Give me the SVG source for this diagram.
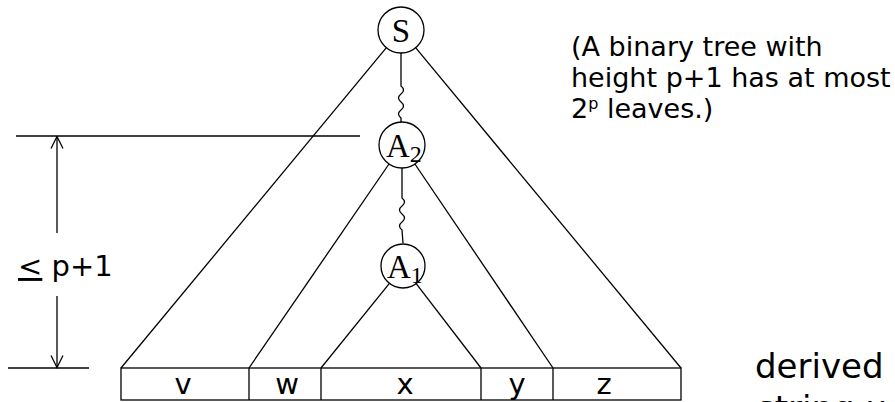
<svg xmlns="http://www.w3.org/2000/svg" width="895" height="402" viewBox="0 0 895 402">
<style>
.ln{stroke:#000;stroke-width:1.3;fill:none}
.nd{stroke:#000;stroke-width:1.3;fill:#fff}
.nt{font-family:"Liberation Serif","Times New Roman",serif;font-size:33px;fill:#000}
.sb{font-size:24px}
.tx{font-family:"DejaVu Sans",Verdana,sans-serif;font-size:27px;fill:#000}
.hl{font-family:"DejaVu Sans",Verdana,sans-serif;font-size:29px;fill:#000}
.dv{font-family:"DejaVu Sans",Verdana,sans-serif;font-size:34px;fill:#000}
.lb{font-family:"DejaVu Sans",Verdana,sans-serif;font-size:29px;fill:#000;text-anchor:middle}
</style>
<defs>
<marker id="ah" viewBox="0 0 14 14" refX="13" refY="7" markerWidth="14" markerHeight="14" markerUnits="userSpaceOnUse" orient="auto-start-reverse">
<path d="M1,1 L13,7 L1,13" fill="none" stroke="#000" stroke-width="1.3"/>
</marker>
</defs>
<g id="connectors">
<line class="ln" x1="386.4" y1="47.7" x2="121" y2="368"/>
<line class="ln" x1="415.6" y1="47.7" x2="681" y2="368"/>
<line class="ln" x1="389" y1="164" x2="249" y2="368"/>
<line class="ln" x1="414.9" y1="164" x2="553" y2="368"/>
<line class="ln" x1="389.4" y1="283.3" x2="321" y2="368"/>
<line class="ln" x1="416.2" y1="283.6" x2="481" y2="368"/>
<path class="ln" d="M401,53 L401,86 q5,4 0,8 q-5,4 0,8 q5,4 0,8 q-5,4 0,8 L401,122"/>
<path class="ln" d="M402,168 L402,198 q5,4 0,8 q-5,4 0,8 q5,4 0,8 q-5,4 0,8 L403,243"/>
<line class="ln" x1="16" y1="136" x2="360" y2="136"/>
<line class="ln" x1="8" y1="368" x2="89" y2="368"/>
<line class="ln" x1="57" y1="233" x2="57" y2="136.5" marker-end="url(#ah)"/>
<line class="ln" x1="57" y1="296" x2="57" y2="367.5" marker-end="url(#ah)"/>
</g>
<g id="node-S">
<circle class="nd" cx="401" cy="30" r="23"/>
<text class="nt" x="401" y="42" text-anchor="middle">S</text>
</g>
<g id="node-A2">
<circle class="nd" cx="402" cy="145" r="23"/>
<text class="nt" x="386" y="157">A<tspan class="sb" dy="5">2</tspan></text>
</g>
<g id="node-A1">
<circle class="nd" cx="403" cy="266" r="22"/>
<text class="nt" x="387" y="278">A<tspan class="sb" dy="5">1</tspan></text>
</g>
<g id="string-box">
<rect class="ln" x="121" y="368" width="560" height="32"/>
<line class="ln" x1="249" y1="368" x2="249" y2="400"/>
<line class="ln" x1="321" y1="368" x2="321" y2="400"/>
<line class="ln" x1="481" y1="368" x2="481" y2="400"/>
<line class="ln" x1="553" y1="368" x2="553" y2="400"/>
<text class="lb" x="183" y="394">v</text>
<text class="lb" x="287" y="394">w</text>
<text class="lb" x="405" y="394">x</text>
<text class="lb" x="517" y="394">y</text>
<text class="lb" x="604" y="394">z</text>
</g>
<g id="note">
<text class="tx" x="571" y="56">(A binary tree with</text>
<text class="tx" x="571" y="87">height p+1 has at most</text>
<text class="tx" x="571" y="118">2<tspan font-size="16" dy="-9">p</tspan><tspan dy="9"> leaves.)</tspan></text>
</g>
<g id="height-label">
<text class="hl" x="18" y="276"><tspan text-decoration="underline">&lt;</tspan> p+1</text>
</g>
<g id="derived-label">
<text class="dv" x="755" y="378">derived</text>
<text class="dv" x="757" y="420">string u</text>
</g>
</svg>
